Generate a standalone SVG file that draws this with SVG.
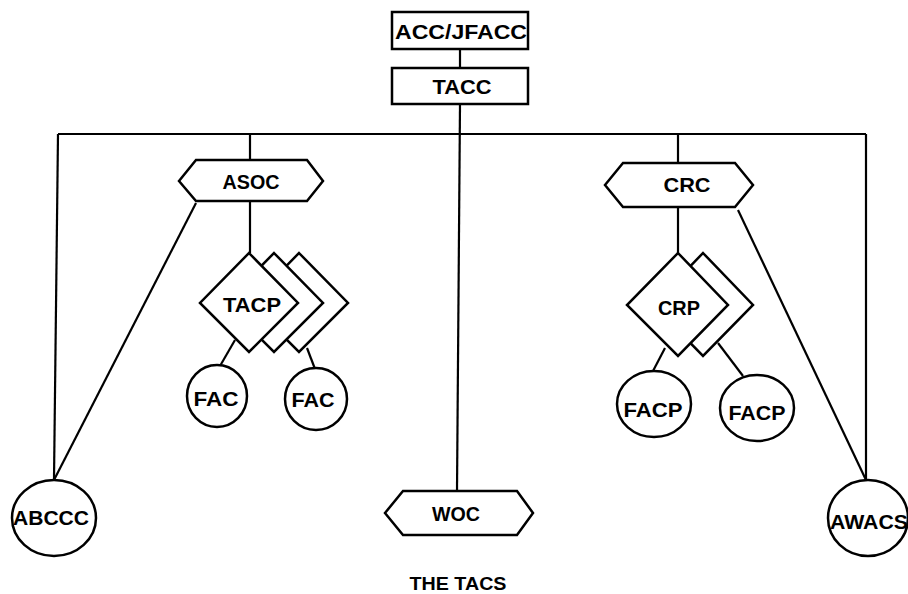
<svg xmlns="http://www.w3.org/2000/svg" width="908" height="594" viewBox="0 0 908 594">
<style>
.s{fill:#fff;stroke:#000;stroke-width:2.5}
.c{fill:none;stroke:#000;stroke-width:2.2}
text{font-family:"Liberation Sans",Arial,sans-serif;font-weight:bold;fill:#000;text-anchor:middle;dominant-baseline:central}
</style>
<rect width="908" height="594" fill="#fff"/>
<g id="connectors">
<line class="c" x1="460" y1="49" x2="460" y2="68"/>
<line class="c" x1="460" y1="104" x2="457" y2="491"/>
<line class="c" x1="58" y1="134" x2="866" y2="134"/>
<line class="c" x1="58" y1="134" x2="54" y2="480"/>
<line class="c" x1="866" y1="134" x2="866" y2="480"/>
<line class="c" x1="250" y1="134" x2="250" y2="160"/>
<line class="c" x1="250" y1="201" x2="250" y2="253"/>
<line class="c" x1="678" y1="134" x2="678" y2="163"/>
<line class="c" x1="678" y1="207" x2="678" y2="253"/>
<line class="c" x1="196" y1="203" x2="54" y2="480"/>
<line class="c" x1="738" y1="210" x2="866" y2="480"/>
<line class="c" x1="235" y1="340" x2="220" y2="366"/>
<line class="c" x1="307" y1="348" x2="315" y2="369"/>
<line class="c" x1="665" y1="348" x2="653" y2="371"/>
<line class="c" x1="718" y1="343" x2="743" y2="376"/>
</g>
<g id="acc">
<rect class="s" x="392" y="12" width="136" height="37"/>
<text x="461" y="31" font-size="21" textLength="132" lengthAdjust="spacingAndGlyphs">ACC/JFACC</text>
</g>
<g id="tacc">
<rect class="s" x="392" y="68" width="136" height="36"/>
<text x="462" y="86" font-size="21" textLength="59" lengthAdjust="spacingAndGlyphs">TACC</text>
</g>
<g id="asoc">
<polygon class="s" points="179,181 196,160 307,160 323,181 307,201 196,201"/>
<text x="251" y="181" font-size="21" textLength="57" lengthAdjust="spacingAndGlyphs">ASOC</text>
</g>
<g id="crc">
<polygon class="s" points="605,185 623,163 735,163 753,185 735,207 623,207"/>
<text x="687" y="184" font-size="21" textLength="47" lengthAdjust="spacingAndGlyphs">CRC</text>
</g>
<g id="woc">
<polygon class="s" points="385,513 403,491 517,491 533,513 517,535 403,535"/>
<text x="456" y="513" font-size="21" textLength="48" lengthAdjust="spacingAndGlyphs">WOC</text>
</g>
<g id="tacp">
<polygon class="s" points="299,253 348,303 299,352 250,303"/>
<polygon class="s" points="274,253 323,303 274,352 225,303"/>
<polygon class="s" points="249,253 298,303 249,352 200,303"/>
<text x="252" y="304" font-size="21" textLength="58" lengthAdjust="spacingAndGlyphs">TACP</text>
</g>
<g id="crp">
<polygon class="s" points="703,253 753,305 703,356 653,305"/>
<polygon class="s" points="678,253 728,305 678,356 627,305"/>
<text x="679" y="307" font-size="21" textLength="42" lengthAdjust="spacingAndGlyphs">CRP</text>
</g>
<g id="fac1">
<ellipse class="s" cx="217" cy="396" rx="30" ry="31"/>
<text x="216" y="398" font-size="21" textLength="45" lengthAdjust="spacingAndGlyphs">FAC</text>
</g>
<g id="fac2">
<ellipse class="s" cx="316" cy="399" rx="31" ry="31"/>
<text x="313" y="399" font-size="21" textLength="43" lengthAdjust="spacingAndGlyphs">FAC</text>
</g>
<g id="facp1">
<ellipse class="s" cx="654" cy="404" rx="37" ry="33"/>
<text x="653" y="409" font-size="21" textLength="59" lengthAdjust="spacingAndGlyphs">FACP</text>
</g>
<g id="facp2">
<ellipse class="s" cx="757" cy="408" rx="37" ry="33"/>
<text x="757" y="412" font-size="21" textLength="57" lengthAdjust="spacingAndGlyphs">FACP</text>
</g>
<g id="abccc">
<ellipse class="s" cx="54" cy="518" rx="42" ry="38"/>
<text x="51" y="518" font-size="20" textLength="76" lengthAdjust="spacingAndGlyphs">ABCCC</text>
</g>
<g id="awacs">
<ellipse class="s" cx="868" cy="518" rx="40" ry="38"/>
<text x="869" y="522" font-size="20" textLength="78" lengthAdjust="spacingAndGlyphs">AWACS</text>
</g>
<g id="title">
<text x="458" y="584" font-size="18" textLength="97" lengthAdjust="spacingAndGlyphs">THE TACS</text>
</g>
</svg>
